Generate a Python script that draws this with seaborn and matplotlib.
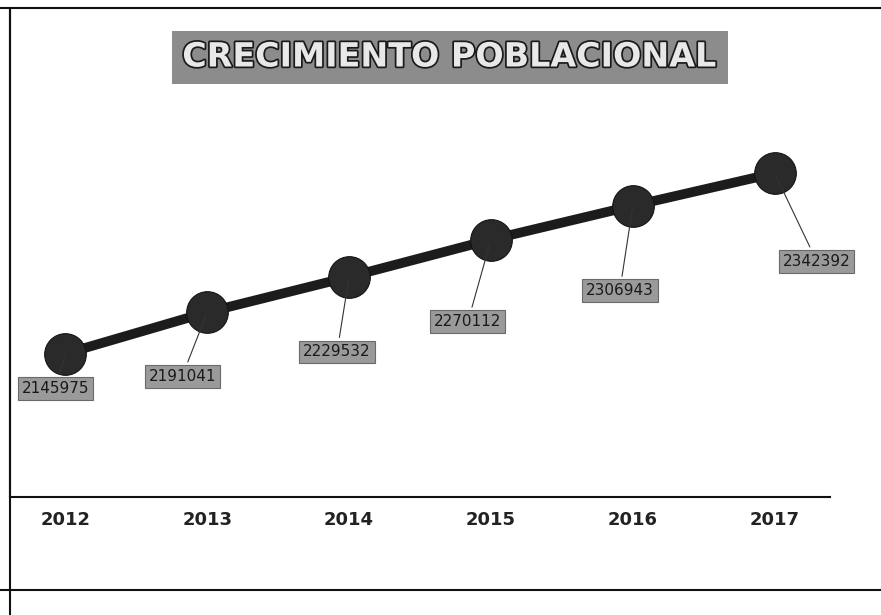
import matplotlib
matplotlib.use("Agg")
import matplotlib.pyplot as plt
import matplotlib.patheffects as pe
from matplotlib.lines import Line2D
import seaborn as sns
import pandas as pd

# Data
years = ["2012", "2013", "2014", "2015", "2016", "2017"]
population = [2145975, 2191041, 2229532, 2270112, 2306943, 2342392]
# label offsets in pixels (dx, dy) relative to each point
label_dx = [-10, -25, -12, -23, -13, 42]
label_dy = [-35, -64, -75, -82, -85, -88]

sns.set_style("white")
plt.rcParams['font.family'] = ['DejaVu Sans']

df = pd.DataFrame({"year": years, "pop": population})

fig = plt.figure(figsize=(8.81, 6.15), dpi=100)
ax = fig.add_axes([10 / 881, 118 / 615, 820 / 881, 487 / 615])

sns.lineplot(data=df, x="year", y="pop", ax=ax, color="#1c1c1c", linewidth=7,
             marker="o", markersize=30, markeredgecolor="#111111",
             markerfacecolor="#2a2a2a", sort=False)

ax.set_xlim(-0.39, 5.39)
ax.set_ylim(1990000, 2520000)
ax.set_xlabel("")
ax.set_ylabel("")
ax.set_yticks([])
ax.tick_params(axis="x", length=0, pad=10)
for lbl in ax.get_xticklabels():
    lbl.set_fontsize(13)
    lbl.set_fontweight("bold")
    lbl.set_color("#222222")

for s in ["right", "top"]:
    ax.spines[s].set_visible(False)
for s in ["left", "bottom"]:
    ax.spines[s].set_color("#111111")
    ax.spines[s].set_linewidth(1.5)

# data labels with leader lines
for i, (yr, val) in enumerate(zip(years, population)):
    ax.annotate(str(val), xy=(i, val), xytext=(label_dx[i], label_dy[i]),
                textcoords="offset pixels", ha="center", va="center",
                fontsize=11, color="#1a1a1a",
                bbox=dict(boxstyle="square,pad=0.25", fc="#9a9a9a", ec="#6a6a6a", lw=0.8),
                arrowprops=dict(arrowstyle="-", color="#333333", lw=0.8))

# title block
fig.text(450 / 881, 1 - 57 / 615, "CRECIMIENTO POBLACIONAL", ha="center", va="center",
         fontsize=24, fontweight="bold", color="#e8e8e8",
         path_effects=[pe.withStroke(linewidth=2.5, foreground="#1a1a1a")],
         bbox=dict(boxstyle="square,pad=0.3", fc="#8c8c8c", ec="none"))

# outer frame lines
fig.add_artist(Line2D([0, 1], [1 - 8 / 615, 1 - 8 / 615], color="#111111", lw=1.5))
fig.add_artist(Line2D([0, 1], [1 - 590 / 615, 1 - 590 / 615], color="#111111", lw=1.5))
fig.add_artist(Line2D([10 / 881, 10 / 881], [0, 1 - 8 / 615], color="#111111", lw=1.5))

fig.savefig("out.png", dpi=100)
